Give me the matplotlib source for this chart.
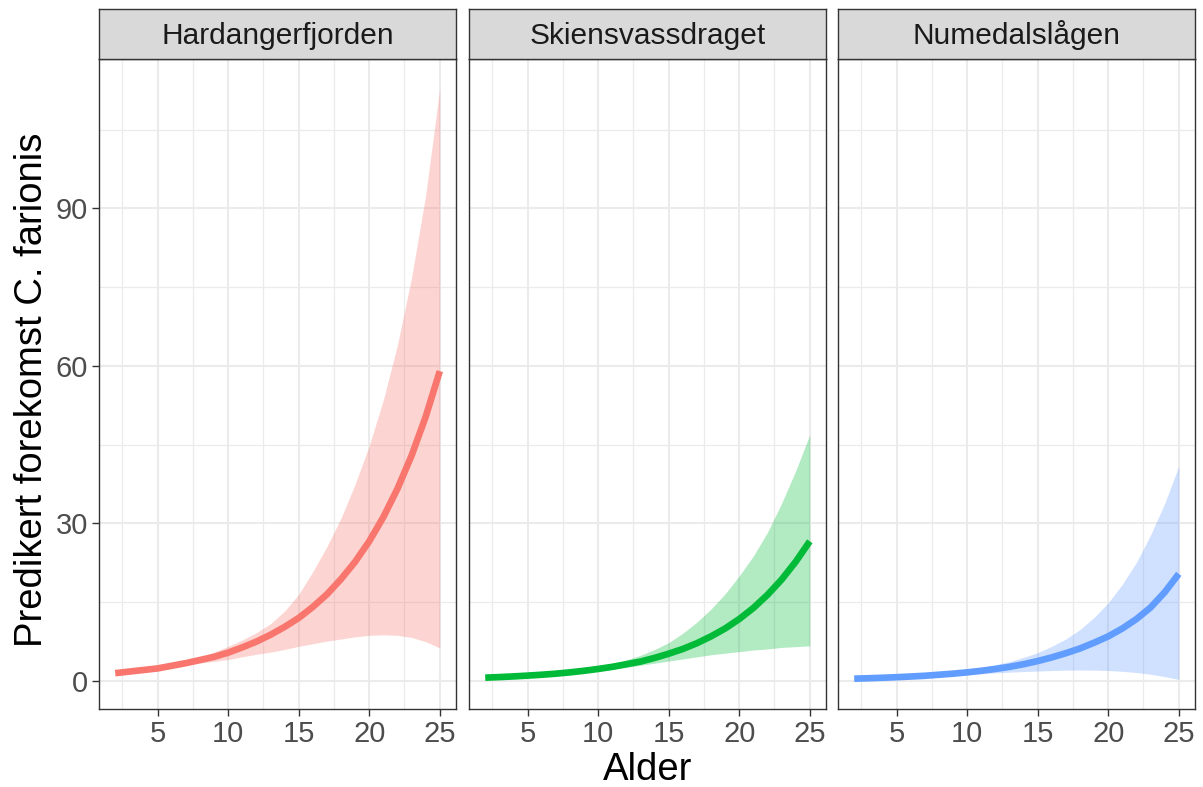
import numpy as np
import matplotlib
matplotlib.use('Agg')
import matplotlib.pyplot as plt

plt.rcParams['font.family'] = ['Liberation Sans', 'DejaVu Sans']

# alder (x) og predikert forekomst med konfidensband, lest av figuren
ages = [2, 3, 4, 5, 6, 7, 8, 9, 10, 11, 12, 13, 14, 15, 16, 17, 18, 19, 20, 21, 22, 23, 24, 25]

regions = ['Hardangerfjorden', 'Skiensvassdraget', 'Numedalslågen']
colors = ['#F8766D', '#00BA38', '#619CFF']

hard_fit = [1.5, 1.8, 2.1, 2.4, 2.9, 3.4, 4.0, 4.6, 5.4, 6.4, 7.5, 8.8, 10.3, 12.0,
            14.1, 16.5, 19.4, 22.7, 26.6, 31.2, 36.6, 42.9, 50.3, 59.0]
hard_lower = [1.4, 1.7, 2.0, 2.3, 2.6, 3.0, 3.4, 3.75, 4.1, 4.6, 5.1, 5.5, 6.0, 6.6,
              7.1, 7.6, 8.0, 8.4, 8.7, 8.8, 8.7, 8.3, 7.5, 6.3]
hard_upper = [1.6, 1.9, 2.3, 2.7, 3.2, 3.8, 4.5, 5.5, 6.6, 7.8, 9.2, 10.9, 13.3, 16.5,
              20.8, 25.6, 31.0, 37.5, 44.8, 53.5, 64.0, 76.8, 92.5, 112.8]

skien_fit = [0.64, 0.75, 0.88, 1.03, 1.2, 1.4, 1.65, 1.95, 2.3, 2.7, 3.2, 3.7, 4.4, 5.2,
             6.1, 7.2, 8.5, 10.0, 11.8, 13.9, 16.4, 19.3, 22.7, 26.6]
skien_lower = [0.6, 0.68, 0.8, 0.92, 1.05, 1.2, 1.4, 1.6, 1.9, 2.2, 2.6, 3.0, 3.4, 3.8,
               4.2, 4.6, 5.0, 5.3, 5.6, 5.9, 6.1, 6.4, 6.55, 6.7]
skien_upper = [0.7, 0.85, 1.0, 1.2, 1.4, 1.65, 1.95, 2.3, 2.7, 3.3, 4.0, 4.9, 6.0, 7.3,
               9.1, 11.2, 13.7, 16.6, 20.0, 23.8, 28.3, 33.8, 40.0, 46.9]

numedal_fit = [0.45, 0.53, 0.62, 0.73, 0.86, 1.0, 1.2, 1.4, 1.65, 1.95, 2.3, 2.7, 3.2, 3.8,
               4.5, 5.3, 6.2, 7.3, 8.5, 10.0, 11.8, 14.0, 16.9, 20.4]
numedal_lower = [0.42, 0.49, 0.57, 0.65, 0.75, 0.86, 1.0, 1.12, 1.25, 1.4, 1.55, 1.68, 1.8, 1.9,
                 2.0, 2.07, 2.1, 2.08, 2.0, 1.85, 1.62, 1.3, 0.85, 0.3]
numedal_upper = [0.48, 0.57, 0.68, 0.8, 0.95, 1.15, 1.4, 1.7, 2.05, 2.5, 3.1, 3.7, 4.5, 5.4,
                 6.6, 8.0, 9.8, 12.1, 14.9, 18.4, 22.6, 27.8, 33.8, 40.9]

fits = [hard_fit, skien_fit, numedal_fit]
lowers = [hard_lower, skien_lower, numedal_lower]
uppers = [hard_upper, skien_upper, numedal_upper]

x_ticks = [5, 10, 15, 20, 25]
y_ticks = [0, 30, 60, 90]

W, H = 1203, 787
fig = plt.figure(figsize=(W / 100, H / 100), dpi=100)

# ggplot-lignende skala med 5 % utvidelse
all_vals = hard_lower + hard_upper + skien_lower + skien_upper + numedal_lower + numedal_upper
ylo, yhi = min(all_vals), max(all_vals)
ypad = 0.05 * (yhi - ylo)
xpad = 0.05 * (max(ages) - min(ages))

panel_left = [99, 469, 838]
panel_w = 357
panel_top, panel_bot = 59, 709
strip_top = 9

for i, name in enumerate(regions):
    ax = fig.add_axes([panel_left[i] / W, 1 - panel_bot / H, panel_w / W, (panel_bot - panel_top) / H])
    ax.fill_between(ages, lowers[i], uppers[i], color=colors[i], alpha=0.3, linewidth=0)
    ax.plot(ages, fits[i], color=colors[i], linewidth=4.8, solid_capstyle='butt')

    ax.set_xlim(min(ages) - xpad, max(ages) + xpad)
    ax.set_ylim(ylo - ypad, yhi + ypad)
    ax.set_xticks(x_ticks)
    ax.set_xticks([2.5, 7.5, 12.5, 17.5, 22.5], minor=True)
    ax.set_yticks(y_ticks)
    ax.set_yticks([15, 45, 75, 105], minor=True)
    ax.grid(which='major', color='#EBEBEB', linewidth=1.5)
    ax.grid(which='minor', color='#EBEBEB', linewidth=0.9)
    ax.set_axisbelow(True)
    for s in ax.spines.values():
        s.set_color('#333333')
        s.set_linewidth(1.0)
    ax.tick_params(which='major', length=5, width=1.0, color='#333333',
                   labelcolor='#4D4D4D', labelsize=21, pad=3)
    ax.tick_params(which='minor', length=0)
    if i > 0:
        ax.tick_params(axis='y', which='both', left=False, labelleft=False)

    # stripe med navn
    sax = fig.add_axes([panel_left[i] / W, 1 - panel_top / H, panel_w / W, (panel_top - strip_top) / H])
    sax.set_facecolor('#D9D9D9')
    sax.set_xticks([])
    sax.set_yticks([])
    for s in sax.spines.values():
        s.set_color('#333333')
        s.set_linewidth(1.0)
    sax.text(0.5, 0.47, name, ha='center', va='center', fontsize=21.5, color='#1A1A1A',
             transform=sax.transAxes)

fig.text(648 / W, 1 - 770 / H, 'Alder', ha='center', va='center', fontsize=27.5)
fig.text(32 / W, 1 - 390 / H, 'Predikert forekomst C. farionis', ha='center', va='center',
         rotation=90, fontsize=27.5)

fig.savefig('out.png', dpi=100)
